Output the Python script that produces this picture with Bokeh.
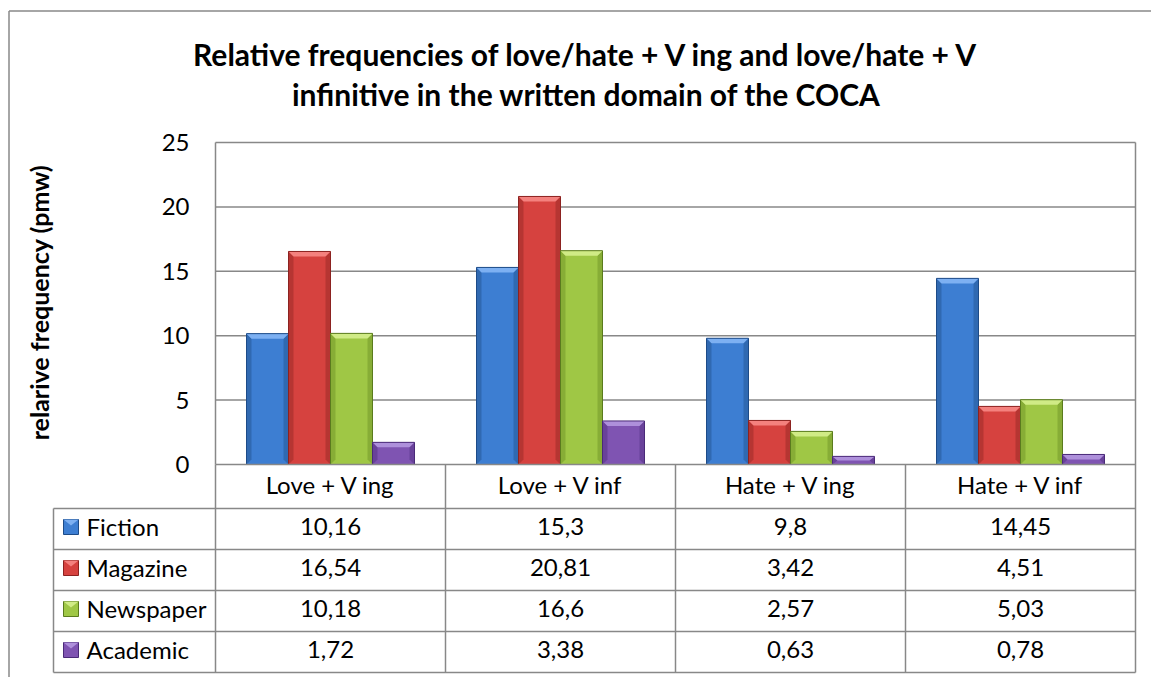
import math
from bokeh.plotting import figure
from bokeh.models import Range1d, FixedTicker, Label
from bokeh.core.properties import value
from bokeh.embed import file_html
from bokeh.resources import INLINE

# ---------------- data ----------------
categories = ["Love + V ing", "Love + V inf", "Hate + V ing", "Hate + V inf"]
series_names = ["Fiction", "Magazine", "Newspaper", "Academic"]
fiction = [10.16, 15.3, 9.8, 14.45]
magazine = [16.54, 20.81, 3.42, 4.51]
newspaper = [10.18, 16.6, 2.57, 5.03]
academic = [1.72, 3.38, 0.63, 0.78]
y_ticks = [0, 5, 10, 15, 20, 25]
title_lines = ["Relative frequencies of love/hate + V ing and love/hate + V",
               "infinitive in the written domain of the COCA"]
y_label = "relarive frequency (pmw)"

series_values = [fiction, magazine, newspaper, academic]

# ---------------- styles ----------------
FONT = "Lato"
base_colors = ["#3d7ed2", "#d6423f", "#9fc745", "#7f54b2"]
light_colors = ["#7db0f2", "#f4817e", "#d0eb86", "#ae90db"]
side_colors = ["#3069b1", "#b63532", "#87ad36", "#69429a"]
dark_colors = ["#1d4b88", "#8c2220", "#5a7b1d", "#4a2a78"]
LINE = "#888888"
TXT_SIZE = "24px"

# ---------------- layout (page pixels) ----------------
W, H = 1151, 677
PX_CAT = 230.0
PX_UNIT = 322.0 / 25.0
ZERO_Y = 464.0
CAT_X = 215.0
BAR_GAP, BAR_W = 31.0, 42.0
HEAD_BOTTOM = 508.0
ROW_H = 41.0
TABLE_L = 53.0
BEV = 5.0


def X(px):
    return (px - CAT_X) / PX_CAT


def Y(py):
    return (ZERO_Y - py) / PX_UNIT


def dx(px):
    return px / PX_CAT


def dy(px):
    return px / PX_UNIT


n_cat = len(categories)
p = figure(width=W, height=H,
           x_range=Range1d(X(0), X(W)),
           y_range=Range1d(Y(H), Y(0)),
           output_backend="svg", toolbar_location=None,
           min_border_left=0, min_border_right=0,
           min_border_top=0, min_border_bottom=0)
p.outline_line_color = None
p.grid.visible = False
p.background_fill_color = "white"
p.border_fill_color = "white"

# chart area border (top and left edges visible)
p.segment(x0=[X(8.5), X(8.5)], x1=[X(W + 5), X(8.5)],
          y0=[Y(10.5), Y(10.5)], y1=[Y(10.5), Y(H + 5)],
          line_color=LINE, line_width=1.5)

# title (two lines)
for k, line in enumerate(title_lines):
    p.text(x=[X(586)], y=[Y(53 + 40 * k)], text=[line],
           text_font=value(FONT), text_font_size="30px", text_font_style="bold",
           text_align="center", text_baseline="alphabetic", text_color="black")

# y axis at x = 0
ya = p.yaxis[0]
ya.fixed_location = 0
ya.ticker = FixedTicker(ticks=y_ticks)
ya.bounds = (0, 25)
ya.axis_line_color = LINE
ya.axis_line_width = 1.5
ya.major_tick_out = 0
ya.major_tick_in = 0
ya.minor_tick_out = 0
ya.minor_tick_in = 0
ya.major_label_standoff = 26
ya.major_label_text_font = FONT
ya.major_label_text_font_size = TXT_SIZE
ya.major_label_text_color = "black"

# x axis at y = 0 (category header row of the data table)
xa = p.xaxis[0]
xa.fixed_location = 0
tick_pos = [i + 0.5 for i in range(n_cat)]
xa.ticker = FixedTicker(ticks=tick_pos)
xa.major_label_overrides = {t: c for t, c in zip(tick_pos, categories)}
xa.bounds = (0, n_cat)
xa.axis_line_color = LINE
xa.axis_line_width = 1.5
xa.major_tick_out = 0
xa.major_tick_in = 0
xa.minor_tick_out = 0
xa.minor_tick_in = 0
xa.major_label_standoff = 5
xa.major_label_text_font = FONT
xa.major_label_text_font_size = TXT_SIZE
xa.major_label_text_color = "black"

# gridlines
gy = [t for t in y_ticks if t > 0]
p.segment(x0=[0] * len(gy), x1=[n_cat] * len(gy), y0=gy, y1=gy,
          line_color=LINE, line_width=1.5)

# bars with a bevel look
for j, vals in enumerate(series_values):
    x0s = [i + dx(BAR_GAP + BAR_W * j) for i in range(n_cat)]
    x1s = [x + dx(BAR_W) for x in x0s]
    p.quad(left=x0s, right=x1s, bottom=[0] * n_cat, top=vals,
           fill_color=base_colors[j], line_color=None)
    bx = dx(BEV)
    top_xs, top_ys, l_xs, l_ys, r_xs, r_ys = [], [], [], [], [], []
    for x0, x1, v in zip(x0s, x1s, vals):
        by = min(dy(BEV), v / 2.0)
        top_xs.append([x0, x1, x1 - bx, x0 + bx])
        top_ys.append([v, v, v - by, v - by])
        l_xs.append([x0, x0 + bx, x0 + bx, x0])
        l_ys.append([v, v - by, by, 0])
        r_xs.append([x1, x1 - bx, x1 - bx, x1])
        r_ys.append([v, v - by, by, 0])
    p.patches(xs=l_xs, ys=l_ys, fill_color=side_colors[j], line_color=None)
    p.patches(xs=r_xs, ys=r_ys, fill_color=side_colors[j], line_color=None)
    p.patches(xs=top_xs, ys=top_ys, fill_color=light_colors[j], line_color=None)
    p.quad(left=x0s, right=x1s, bottom=[0] * n_cat, top=vals,
           fill_color=None, line_color=dark_colors[j], line_width=1)

# data table lines
n_rows = len(series_names)
row_edges = [HEAD_BOTTOM + ROW_H * k for k in range(n_rows + 1)]
p.segment(x0=[X(TABLE_L)] * len(row_edges), x1=[n_cat] * len(row_edges),
          y0=[Y(r) for r in row_edges], y1=[Y(r) for r in row_edges],
          line_color=LINE, line_width=1.5)
vx = [X(TABLE_L)] + list(range(n_cat + 1))
vtop = [Y(HEAD_BOTTOM)] + [0] * n_cat + [25]
p.segment(x0=vx, x1=vx, y0=vtop, y1=[Y(row_edges[-1])] * len(vx),
          line_color=LINE, line_width=1.5)

# table texts
row_cy = [Y(HEAD_BOTTOM + ROW_H * (r + 0.5) - 3) for r in range(n_rows)]
for r, vals in enumerate(series_values):
    txt = [("%g" % v).replace(".", ",") for v in vals]
    p.text(x=tick_pos, y=[row_cy[r]] * n_cat, text=txt,
           text_font=value(FONT), text_font_size=TXT_SIZE,
           text_align="center", text_baseline="middle", text_color="black")
p.text(x=[X(86)] * n_rows, y=row_cy, text=series_names,
       text_font=value(FONT), text_font_size=TXT_SIZE,
       text_align="left", text_baseline="middle", text_color="black")

# legend keys inside the table
kx0, kx1 = X(63), X(78)
for r in range(n_rows):
    cy = Y(HEAD_BOTTOM + ROW_H * (r + 0.5) - 2)
    p.quad(left=[kx0], right=[kx1], bottom=[cy - dy(7.5)], top=[cy + dy(7.5)],
           fill_color=base_colors[r], line_color=dark_colors[r], line_width=1)
    p.patches(xs=[[kx0, kx1, (kx0 + kx1) / 2]],
              ys=[[cy + dy(7.5), cy + dy(7.5), cy + dy(1.5)]],
              fill_color=light_colors[r], line_color=None)

# y axis title
p.add_layout(Label(x=X(38), y=Y(302), text=y_label, angle=math.pi / 2,
                   text_align="center", text_baseline="middle",
                   text_font=FONT, text_font_size="25px", text_font_style="bold",
                   text_color="black"))

open("out.html", "w").write(file_html(p, INLINE))
